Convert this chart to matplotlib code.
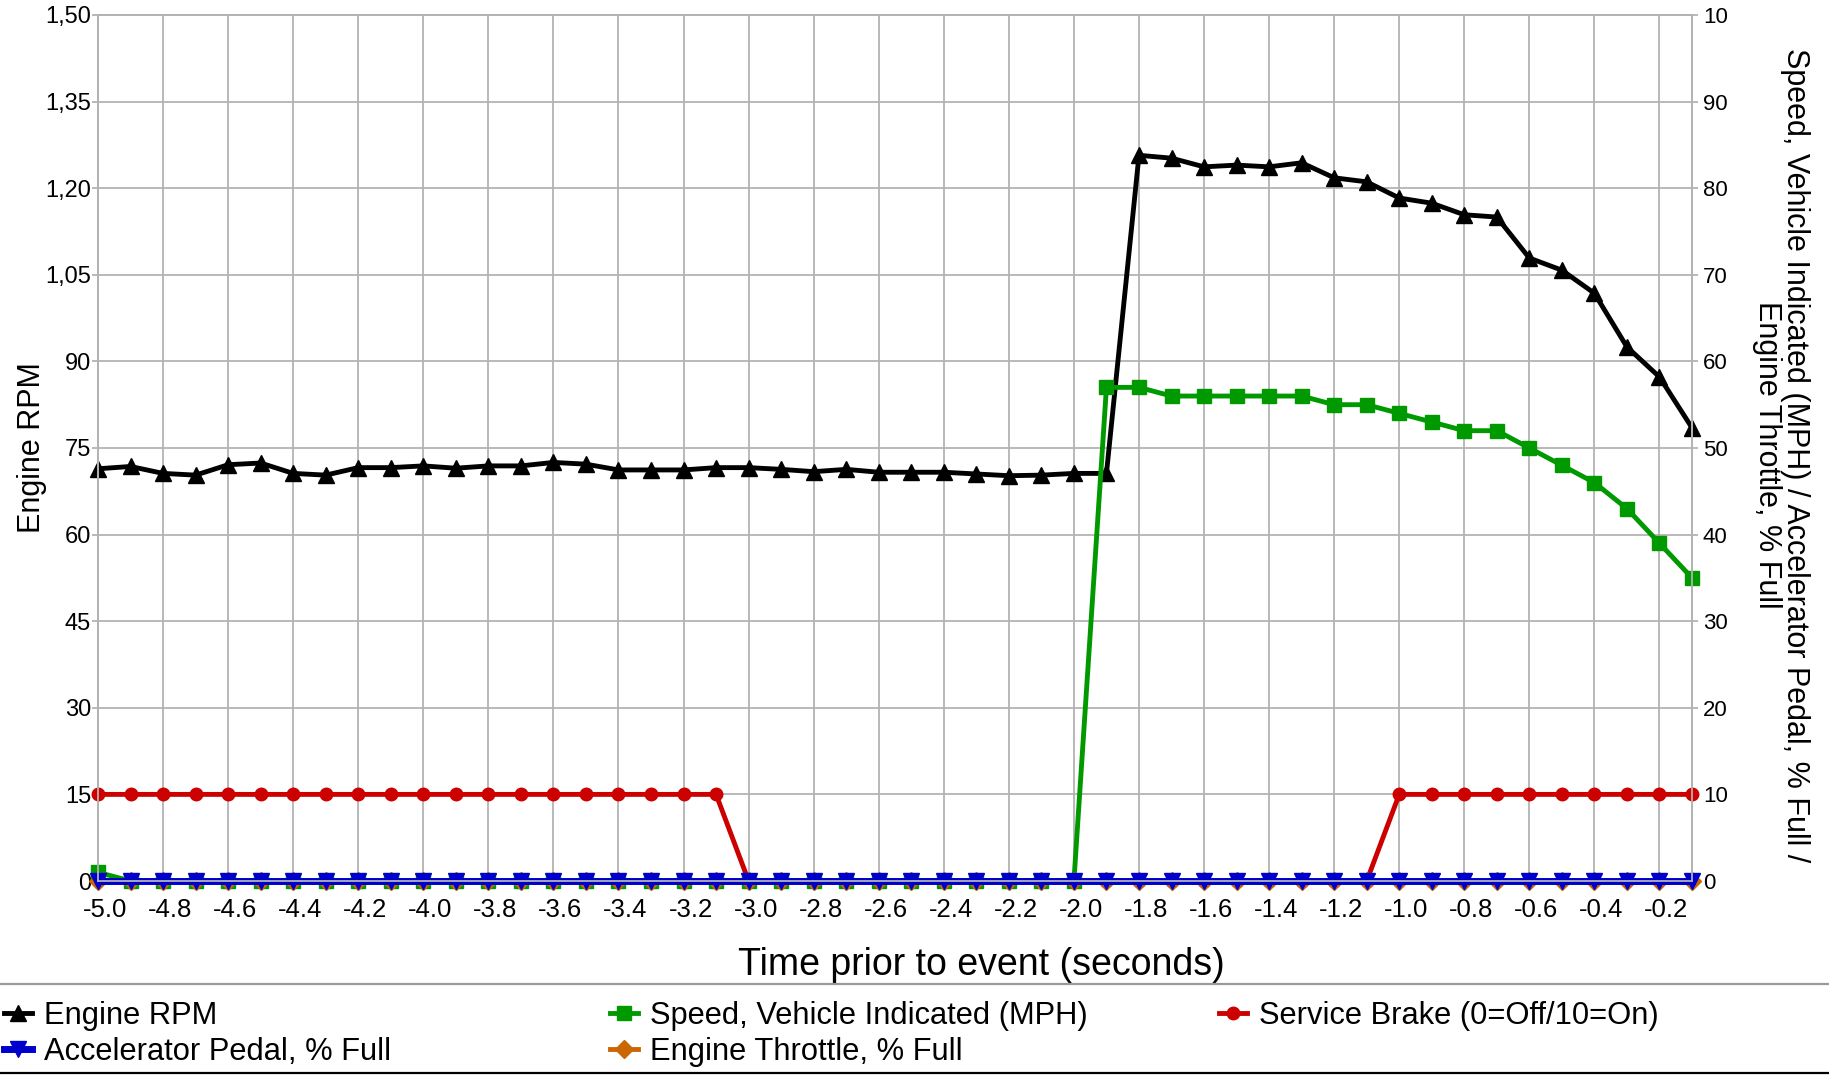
import matplotlib.pyplot as plt
from matplotlib.lines import Line2D
from matplotlib.transforms import ScaledTranslation
import numpy as np

plt.rcParams['font.family'] = ['Liberation Sans', 'DejaVu Sans']

# time axis, one sample every 0.1 s
time = np.round(np.arange(-5.0, -0.05, 0.1), 1)

rpm = [714, 718, 706, 703, 721, 724, 706, 703, 716, 716,
       719, 715, 719, 719, 725, 722, 712, 712, 712, 716,
       716, 713, 709, 713, 708, 708, 708, 705, 702, 703,
       706, 706, 1257, 1252, 1237, 1240, 1237, 1244, 1218, 1211,
       1183, 1174, 1154, 1150, 1079, 1058, 1018, 925, 873, 785]
speed = [1] + [0] * 30 + [57, 57, 56, 56, 56, 56, 56, 55, 55,
                          54, 53, 52, 52, 50, 48, 46, 43, 39, 35]
brake = [10] * 20 + [0] * 20 + [10] * 10
accel = [0] * 50
throttle = [0] * 50

rpm_ticks = [0, 150, 300, 450, 600, 750, 900, 1050, 1200, 1350, 1500]
rpm_labels = ['0', '15', '30', '45', '60', '75', '90', '1,05', '1,20', '1,35', '1,50']
pct_ticks = [0, 10, 20, 30, 40, 50, 60, 70, 80, 90, 100]
pct_labels = ['0', '10', '20', '30', '40', '50', '60', '70', '80', '90', '10']
x_ticks = np.round(np.arange(-5.0, -0.15, 0.2), 1)

grid_c = '#b3b3b3'

fig = plt.figure(figsize=(18.29, 10.75), dpi=100)
ax = fig.add_axes([98/1829, 1-881/1075, (1692-98)/1829, (881-15)/1075])
ax2 = ax.twinx()

l_rpm, = ax.plot(time, rpm, color='black', marker='^', ms=12, lw=3.5,
                 clip_on=False, label='Engine RPM')
l_spd, = ax2.plot(time, speed, color='#009900', marker='s', ms=10, lw=3.5,
                  clip_on=False, label='Speed, Vehicle Indicated (MPH)')
l_brk, = ax2.plot(time, brake, color='#cc0000', marker='o', ms=9, lw=3.5,
                  clip_on=False, label='Service Brake (0=Off/10=On)')
l_thr, = ax2.plot(time, throttle, color='#cc6600', marker='D', ms=9, lw=3.5,
                  clip_on=False, label='Engine Throttle, % Full')
l_acc, = ax2.plot(time, accel, color='#0000cc', marker='v', ms=11, lw=5,
                  clip_on=False, label='Accelerator Pedal, % Full')

ax.set_xlim(-5.0, -0.1)
ax.set_ylim(0, 1500)
ax2.set_ylim(0, 100)
ax.set_xticks(x_ticks)
ax.set_xticklabels([f'{t:.1f}' for t in x_ticks])
ax.set_yticks(rpm_ticks)
ax.set_yticklabels(rpm_labels)
ax2.set_yticks(pct_ticks)
ax2.set_yticklabels(pct_labels)

ax.grid(True, color=grid_c, lw=1.3)
ax.set_axisbelow(True)
for a in (ax, ax2):
    for s in a.spines.values():
        s.set_color(grid_c)
        s.set_linewidth(1.3)

ax.tick_params(axis='x', length=0, pad=12, labelsize=18.5)
ax.tick_params(axis='y', length=4, color=grid_c, width=1.3, pad=1, labelsize=17)
ax2.tick_params(axis='y', length=4.3, color=grid_c, width=1.3, pad=3.6, labelsize=16)

# x tick labels sit a little right of their gridlines
shift = ScaledTranslation(7/100, 0, fig.dpi_scale_trans)
for lab in ax.get_xticklabels():
    lab.set_transform(lab.get_transform() + shift)

ax.set_xlabel('Time prior to event (seconds)', fontsize=27)
ax.xaxis.set_label_coords(0.554, -0.076)
ax.set_ylabel('Engine RPM', fontsize=22)
ax.yaxis.set_label_coords(-0.032, 0.5)
ax2.set_ylabel('Speed, Vehicle Indicated (MPH) / Accelerator Pedal, % Full /\nEngine Throttle, % Full',
               fontsize=22, rotation=270, va='bottom', ha='center',
               rotation_mode='anchor', linespacing=0.9)
ax2.yaxis.set_label_coords(1.0377, 0.492)

# legend below the plot, three columns
leg_y = 1 - 1001/1075
kw = dict(loc='upper left', frameon=False, fontsize=22.2, borderpad=0,
          borderaxespad=0, labelspacing=0.2, handlelength=0.9, handletextpad=0.4)
fig.legend(handles=[l_rpm, l_acc], bbox_to_anchor=(4/1829, leg_y), **kw)
fig.legend(handles=[l_spd, l_thr], bbox_to_anchor=(610/1829, leg_y), **kw)
fig.legend(handles=[l_brk], bbox_to_anchor=(1219/1829, leg_y), **kw)

fig.add_artist(Line2D([0, 1], [1-984/1075]*2, transform=fig.transFigure,
                      color='#999999', lw=1.6))
fig.add_artist(Line2D([0, 1], [1-1073/1075]*2, transform=fig.transFigure,
                      color='black', lw=1.6))

fig.savefig('out.png', dpi=100)
